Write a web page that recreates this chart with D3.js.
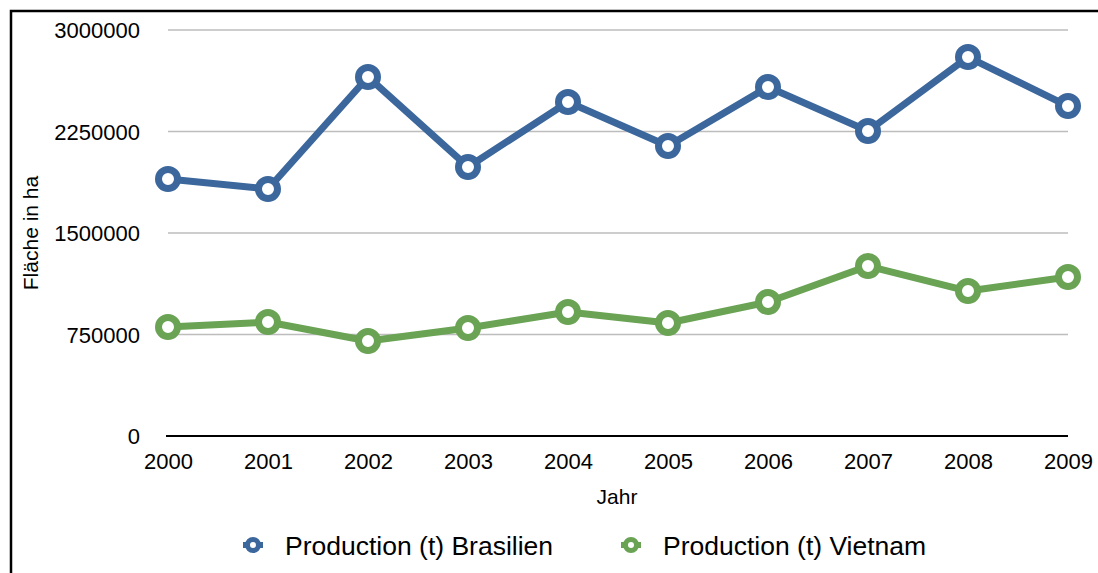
<!DOCTYPE html>
<html>
<head>
<meta charset="utf-8">
<script src="https://cdn.jsdelivr.net/npm/d3@7"></script>
<style>
  body { margin: 0; background: #fff; }
  text { font-family: "Liberation Sans", Arial, sans-serif; fill: #000; }
</style>
</head>
<body>
<script>
const years = [2000, 2001, 2002, 2003, 2004, 2005, 2006, 2007, 2008, 2009]
const brasilien = [1899000, 1825000, 2653000, 1988000, 2468000, 2143000, 2579000, 2254000, 2800000, 2438000]
const vietnam = [805000, 842000, 702000, 798000, 916000, 835000, 990000, 1256000, 1071000, 1175000]
const yTicks = [0, 750000, 1500000, 2250000, 3000000]
const seriesNames = ['Production (t) Brasilien', 'Production (t) Vietnam']
const colors = ['#3b679c', '#69a353']

const width = 1098, height = 573
const margin = { top: 30, right: 30, bottom: 137, left: 168 }

const svg = d3.select('body').append('svg')
    .attr('width', width)
    .attr('height', height)

// frame
svg.append('path')
    .attr('d', 'M11,' + height + ' V11 H' + width)
    .attr('fill', 'none')
    .attr('stroke', '#000')
    .attr('stroke-width', 2.5)

const xScale = d3.scalePoint()
    .domain(years)
    .range([margin.left, width - margin.right])

const yScale = d3.scaleLinear()
    .domain([0, 3000000])
    .range([height - margin.bottom, margin.top])

// gridlines
svg.append('g')
    .selectAll('line')
    .data(yTicks.filter(d => d > 0))
    .enter()
    .append('line')
    .attr('x1', margin.left)
    .attr('x2', width - margin.right)
    .attr('y1', d => yScale(d))
    .attr('y2', d => yScale(d))
    .attr('stroke', '#bdbdbd')
    .attr('stroke-width', 1.5)

// y axis labels
const yAxis = svg.append('g')
    .attr('transform', 'translate(' + (margin.left - 28) + ',0)')
    .call(d3.axisLeft(yScale).tickValues(yTicks).tickSize(0).tickPadding(0).tickFormat(d3.format('d')))
yAxis.select('.domain').remove()
yAxis.selectAll('text').style('font-size', '22px').attr('font-family', null).attr('dy', '0.36em')

// baseline
svg.append('line')
    .attr('x1', margin.left - 2)
    .attr('x2', width - margin.right)
    .attr('y1', yScale(0))
    .attr('y2', yScale(0))
    .attr('stroke', '#000')
    .attr('stroke-width', 2)

// x axis labels
const xAxis = svg.append('g')
    .attr('transform', 'translate(0,' + yScale(0) + ')')
    .call(d3.axisBottom(xScale).tickSize(0).tickPadding(17))
xAxis.select('.domain').remove()
xAxis.selectAll('text').style('font-size', '22px').attr('font-family', null)

// axis titles
svg.append('text')
    .attr('x', 617)
    .attr('y', 504)
    .attr('text-anchor', 'middle')
    .style('font-size', '21px')
    .text('Jahr')

svg.append('text')
    .attr('transform', 'translate(38,' + 233 + ') rotate(-90)')
    .attr('text-anchor', 'middle')
    .style('font-size', '21px')
    .text('Fläche in ha')

const line = d3.line()
    .x((d, i) => xScale(years[i]))
    .y(d => yScale(d))

const allSeries = [brasilien, vietnam]

allSeries.forEach((values, k) => {
    svg.append('path')
        .datum(values)
        .attr('d', line)
        .attr('fill', 'none')
        .attr('stroke', colors[k])
        .attr('stroke-width', 7)
        .attr('stroke-linejoin', 'round')

    svg.selectAll('.dot' + k)
        .data(values)
        .enter()
        .append('circle')
        .attr('cx', (d, i) => xScale(years[i]))
        .attr('cy', d => yScale(d))
        .attr('r', 9.5)
        .attr('fill', '#fff')
        .attr('stroke', colors[k])
        .attr('stroke-width', 7)
})

// legend
const legendX = [253, 631]
seriesNames.forEach((name, k) => {
    const g = svg.append('g').attr('transform', 'translate(' + legendX[k] + ',545)')
    g.append('line')
        .attr('x1', -10).attr('x2', 10)
        .attr('stroke', colors[k])
        .attr('stroke-width', 6)
    g.append('circle')
        .attr('r', 5.5)
        .attr('fill', '#fff')
        .attr('stroke', colors[k])
        .attr('stroke-width', 5)
    g.append('text')
        .attr('x', 32)
        .attr('dy', '0.36em')
        .style('font-size', '26.5px')
        .text(name)
})
</script>
</body>
</html>
